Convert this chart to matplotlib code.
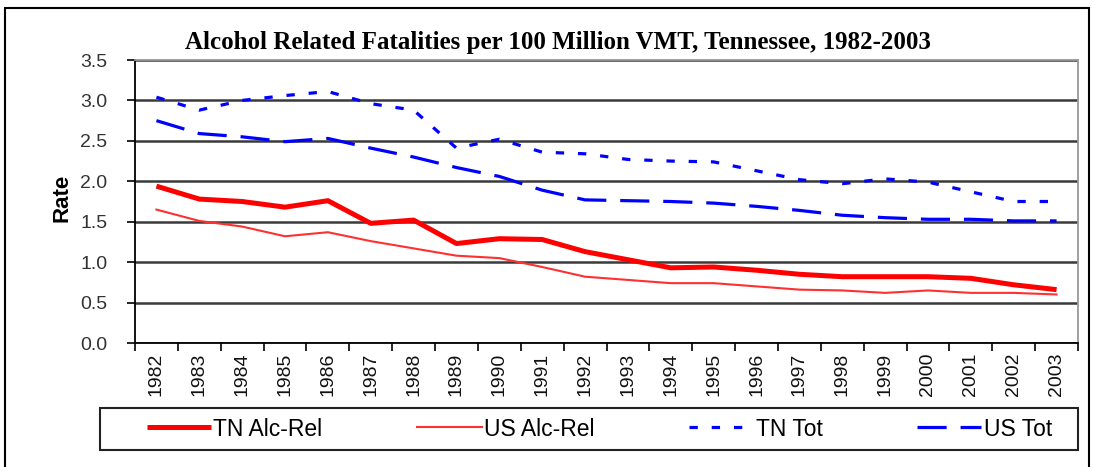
import matplotlib.pyplot as plt
from matplotlib.patches import Rectangle

years = [str(y) for y in range(1982, 2004)]
tn_alc = [1.94, 1.78, 1.75, 1.68, 1.76, 1.48, 1.52, 1.23, 1.29, 1.28, 1.13,
          1.03, 0.93, 0.94, 0.90, 0.85, 0.82, 0.82, 0.82, 0.80, 0.72, 0.66]
us_alc = [1.65, 1.51, 1.44, 1.32, 1.37, 1.26, 1.17, 1.08, 1.05, 0.94, 0.82,
          0.78, 0.74, 0.74, 0.70, 0.66, 0.65, 0.62, 0.65, 0.62, 0.62, 0.60]
tn_tot = [3.04, 2.88, 3.00, 3.06, 3.11, 2.96, 2.88, 2.41, 2.52, 2.36, 2.34,
          2.27, 2.25, 2.24, 2.13, 2.02, 1.97, 2.03, 1.99, 1.87, 1.75, 1.75]
us_tot = [2.75, 2.59, 2.55, 2.49, 2.53, 2.41, 2.30, 2.17, 2.06, 1.89, 1.77,
          1.76, 1.75, 1.73, 1.69, 1.64, 1.58, 1.55, 1.53, 1.53, 1.51, 1.51]
yticks = [0.0, 0.5, 1.0, 1.5, 2.0, 2.5, 3.0, 3.5]

plt.rcParams['font.family'] = ['Liberation Sans', 'DejaVu Sans']
plt.rcParams['lines.scale_dashes'] = False

W, H = 1095, 467
fig = plt.figure(figsize=(W / 100, H / 100), dpi=100)
ax = fig.add_axes([135 / W, 1 - 343 / H, 943 / W, 283 / H])

x = list(range(len(years)))
ax.plot(x, tn_alc, color='#ff0000', lw=3.6, solid_capstyle='butt', label='TN Alc-Rel')
ax.plot(x, us_alc, color='#ff3030', lw=1.5, label='US Alc-Rel')
ax.plot(x, tn_tot, color='#0000ff', lw=2.3, dashes=(6, 10), label='TN Tot')
ax.plot(x, us_tot, color='#0000ff', lw=2.3, dashes=(21, 10), label='US Tot')

ax.set_xlim(-0.5, len(years) - 0.5)
ax.set_ylim(0, 3.5)
ax.set_yticks(yticks)
ax.set_yticklabels([f'{v:.1f}' for v in yticks], fontsize=14, color='#333333')
ax.set_xticks(x)
ax.set_xticklabels(years, rotation=90, fontsize=14, color='#111111')
ax.set_xticks([i - 0.5 for i in range(len(years) + 1)], minor=True)
ax.tick_params(axis='x', which='major', length=0, pad=7)
ax.tick_params(axis='x', which='minor', length=6, width=1.2, direction='out')
ax.tick_params(axis='y', length=6, width=1.2, direction='out', pad=14)
ax.yaxis.grid(True, color='#3a3a3a', lw=1.8)
ax.set_axisbelow(True)
for s in ['left', 'bottom']:
    ax.spines[s].set_color('black')
    ax.spines[s].set_linewidth(1.3)
for s in ['top', 'right']:
    ax.spines[s].set_color('#999999')
    ax.spines[s].set_linewidth(1.3)

fig.text(62 / W, 1 - 198 / H, 'Rate', rotation=90, ha='center', va='center',
         fontsize=16, fontweight='bold')

fig.text(558 / W, 1 - 42 / H, 'Alcohol Related Fatalities per 100 Million VMT, Tennessee, 1982-2003',
         ha='center', va='center', fontsize=18, fontweight='bold', family='Liberation Serif')

leg = fig.legend(loc='center left', bbox_to_anchor=(147 / W, 1 - 450 / H, 905 / W, 42 / H),
                 mode='expand', ncol=4, fontsize=16.5, frameon=False,
                 handlelength=2.8, handletextpad=0.1, borderpad=0, borderaxespad=0)

fig.patches.append(Rectangle((100 / W, 1 - 450 / H), 978 / W, 42 / H, transform=fig.transFigure,
                             fill=False, edgecolor='#222222', lw=1.5))
fig.patches.append(Rectangle((5 / W, -0.1), 1084 / W, 1.1 - 8 / H, transform=fig.transFigure,
                             fill=False, edgecolor='black', lw=1.5))

fig.savefig('out.png', dpi=100)
